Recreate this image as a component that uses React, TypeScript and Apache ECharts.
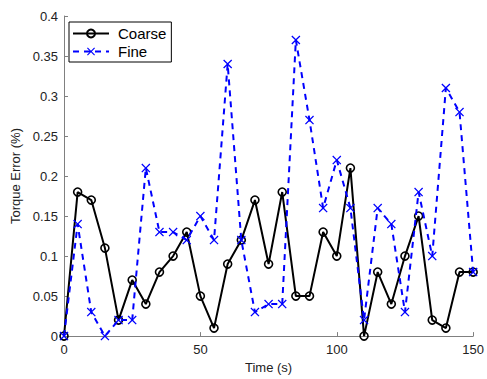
import React, { useEffect, useRef } from "react";
import * as echarts from "echarts";

const times = [0, 5, 10, 15, 20, 25, 30, 35, 40, 45, 50, 55, 60, 65, 70, 75, 80, 85, 90, 95, 100, 105, 110, 115, 120, 125, 130, 135, 140, 145, 150];
const coarse = [0, 0.18, 0.17, 0.11, 0.02, 0.07, 0.04, 0.08, 0.10, 0.13, 0.05, 0.01, 0.09, 0.12, 0.17, 0.09, 0.18, 0.05, 0.05, 0.13, 0.10, 0.21, 0, 0.08, 0.04, 0.10, 0.15, 0.02, 0.01, 0.08, 0.08];
const fine = [0, 0.14, 0.03, 0, 0.02, 0.02, 0.21, 0.13, 0.13, 0.12, 0.15, 0.12, 0.34, 0.12, 0.03, 0.04, 0.04, 0.37, 0.27, 0.16, 0.22, 0.16, 0.02, 0.16, 0.14, 0.03, 0.18, 0.10, 0.31, 0.28, 0.08];
const xTicks = [0, 50, 100, 150];
const yMax = 0.4;
const yStep = 0.05;

const FONT = "'Liberation Sans', Arial, Helvetica, sans-serif";
const X_PATH = "path://M1,0 L5,4 L9,0 L10,1 L6,5 L10,9 L9,10 L5,6 L1,10 L0,9 L4,5 L0,1 Z";

export default function App() {
  const ref = useRef<HTMLDivElement>(null);
  useEffect(() => {
    if (!ref.current) return;
    const chart = echarts.init(ref.current, null, { renderer: "svg" });
    const axisGray = "#808080";
    chart.setOption({
      animation: false,
      backgroundColor: "#ffffff",
      textStyle: { fontFamily: FONT },
      grid: { left: 64, right: 11, top: 16, bottom: 39, containLabel: false },
      legend: {
        left: 69,
        top: 22,
        orient: "vertical",
        backgroundColor: "#ffffff",
        borderColor: "#000000",
        borderWidth: 1,
        padding: [4, 5, 3, 3],
        itemGap: 3,
        itemWidth: 36,
        itemHeight: 10,
        textStyle: { fontFamily: FONT, fontSize: 15, color: "#000", padding: [0, 0, 0, 4] },
        data: ["Coarse", "Fine"],
      },
      xAxis: {
        type: "value",
        min: xTicks[0],
        max: xTicks[xTicks.length - 1],
        interval: 50,
        name: "Time (s)",
        nameLocation: "middle",
        nameGap: 22,
        nameTextStyle: { fontFamily: FONT, fontSize: 13, color: "#222" },
        axisLine: { show: true, lineStyle: { color: axisGray, width: 1 } },
        axisTick: { show: true, inside: true, length: 4, lineStyle: { color: axisGray } },
        axisLabel: { fontFamily: FONT, fontSize: 13, color: "#222", margin: 7 },
        splitLine: { show: false },
      },
      yAxis: {
        type: "value",
        min: 0,
        max: yMax,
        interval: yStep,
        name: "Torque Error (%)",
        nameLocation: "middle",
        nameGap: 39,
        nameTextStyle: { fontFamily: FONT, fontSize: 13, color: "#222" },
        axisLine: { show: true, lineStyle: { color: axisGray, width: 1 } },
        axisTick: { show: true, inside: true, length: 4, lineStyle: { color: axisGray } },
        axisLabel: {
          fontFamily: FONT,
          fontSize: 13,
          color: "#222",
          margin: 6,
          formatter: (v: number) => String(parseFloat(v.toFixed(2))),
        },
        splitLine: { show: false },
      },
      series: [
        {
          name: "Coarse",
          type: "line",
          data: times.map((t, i) => [t, coarse[i]]),
          symbol: "circle",
          symbolSize: 8,
          showAllSymbol: true,
          lineStyle: { color: "#000000", width: 2 },
          itemStyle: { color: "rgba(255,255,255,0)", borderColor: "#000000", borderWidth: 1.6 },
          z: 2,
        },
        {
          name: "Fine",
          type: "line",
          data: times.map((t, i) => [t, fine[i]]),
          symbol: X_PATH,
          symbolSize: 9,
          showAllSymbol: true,
          lineStyle: { color: "#0000ff", width: 2, type: [6, 5] },
          itemStyle: { color: "#0000ff", borderWidth: 0 },
          z: 3,
        },
      ],
    });
    return () => chart.dispose();
  }, []);
  return <div ref={ref} style={{ position: "fixed", left: 0, top: 0, width: 487, height: 379 }} />;
}
